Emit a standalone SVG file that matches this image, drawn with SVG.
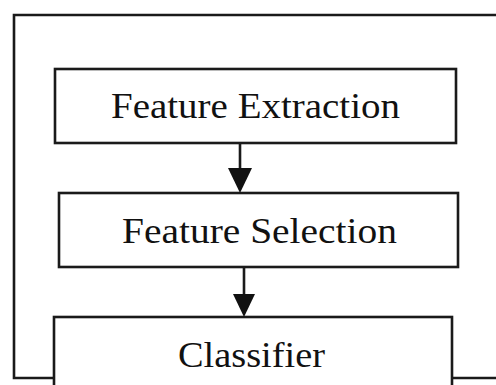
<svg xmlns="http://www.w3.org/2000/svg" width="496" height="385" viewBox="0 0 496 385">
<style>
.box{fill:#fff;stroke:#1a1a1a;stroke-width:2.6}
.ln{fill:none;stroke:#1a1a1a;stroke-width:2.6}
.lbl{font-family:"Liberation Serif","Times New Roman",serif;font-size:35px;fill:#111}
</style>
<rect width="496" height="385" fill="#fff"/>
<g id="frame">
<path class="ln" d="M496,15 H14 V378 H54 M452,378 H496"/>
</g>
<g id="extraction">
<rect class="box" x="55" y="69" width="401" height="74"/>
<text class="lbl" x="111" y="118" textLength="289" lengthAdjust="spacingAndGlyphs">Feature Extraction</text>
</g>
<g id="selection">
<rect class="box" x="59" y="193" width="399" height="74"/>
<text class="lbl" x="122" y="243" textLength="275" lengthAdjust="spacingAndGlyphs">Feature Selection</text>
</g>
<g id="classifier">
<rect class="box" x="54" y="317" width="398" height="90"/>
<text class="lbl" x="178" y="367" textLength="147" lengthAdjust="spacingAndGlyphs">Classifier</text>
</g>
<g id="connectors">
<line class="ln" x1="240" y1="143" x2="240" y2="170"/>
<polygon points="228,168 252,168 240,193" fill="#111"/>
<line class="ln" x1="244" y1="267" x2="244" y2="296"/>
<polygon points="233,294 255,294 244,317" fill="#111"/>
</g>
</svg>
